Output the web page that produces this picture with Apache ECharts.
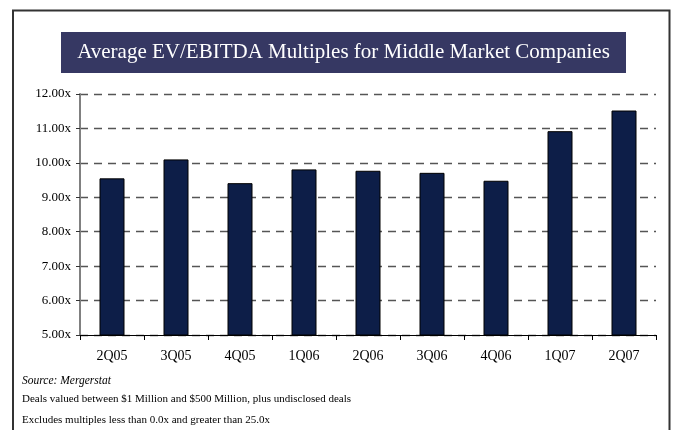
<!DOCTYPE html>
<html>
<head>
<meta charset="utf-8">
<script src="https://cdn.jsdelivr.net/npm/echarts@6/dist/echarts.min.js"></script>
<style>
html,body{margin:0;padding:0;background:#fff;}
#chart{width:673px;height:430px;}
</style>
</head>
<body>
<div id="chart"></div>
<script>
const titleText = 'Average EV/EBITDA Multiples for Middle Market Companies';
const categories = ['2Q05','3Q05','4Q05','1Q06','2Q06','3Q06','4Q06','1Q07','2Q07'];
const multiples = [9.55, 10.1, 9.41, 9.81, 9.77, 9.71, 9.48, 10.92, 11.52];
const yTicks = [5, 6, 7, 8, 9, 10, 11, 12];
const notes = ['Source: Mergerstat', 'Deals valued between $1 Million and $500 Million, plus undisclosed deals', 'Excludes multiples less than 0.0x and greater than 25.0x'];

const FONT = '"Liberation Serif", "DejaVu Serif", serif';
const chart = echarts.init(document.getElementById('chart'), null, {renderer: 'canvas'});
chart.setOption({
  animation: false,
  backgroundColor: '#fff',
  grid: {left: 80, right: 17, top: 94, bottom: 95},
  xAxis: {
    type: 'category',
    data: categories,
    boundaryGap: true,
    axisLine: {lineStyle: {color: '#000', width: 1}},
    axisTick: {show: true, length: 5, lineStyle: {color: '#000'}},
    axisLabel: {color: '#000', fontFamily: FONT, fontSize: 14, margin: 14}
  },
  yAxis: {
    type: 'value',
    min: yTicks[0],
    max: yTicks[yTicks.length - 1],
    interval: 1,
    axisLine: {show: true, lineStyle: {color: '#808080', width: 2}},
    axisTick: {show: true, length: 4, lineStyle: {color: '#333'}},
    axisLabel: {color: '#000', fontFamily: FONT, fontSize: 13, margin: 9,
      formatter: v => v.toFixed(2) + 'x'},
    splitLine: {show: true, lineStyle: {color: '#555', width: 1.4, type: [8, 6]}}
  },
  series: [{
    type: 'bar',
    data: multiples,
    barWidth: 25,
    itemStyle: {color: '#0d1e48', borderColor: '#000', borderWidth: 1}
  }],
  graphic: [
    {type: 'polyline', shape: {points: [[13, 430], [13, 10.5], [669.5, 10.5], [669.5, 430]]},
      style: {stroke: '#333', lineWidth: 2, fill: null}},
    {type: 'rect', shape: {x: 61, y: 32, width: 565, height: 41},
      style: {fill: '#363863'}},
    {type: 'text', x: 343.5, y: 52.5,
      style: {text: titleText, fill: '#fff', font: '21px ' + FONT, textAlign: 'center', textVerticalAlign: 'middle'}},
    {type: 'text', x: 22, y: 381,
      style: {text: notes[0], fill: '#000', font: 'italic 11.5px ' + FONT, textVerticalAlign: 'middle'}},
    {type: 'text', x: 22, y: 399,
      style: {text: notes[1], fill: '#000', font: '11px ' + FONT, textVerticalAlign: 'middle'}},
    {type: 'text', x: 22, y: 420,
      style: {text: notes[2], fill: '#000', font: '11px ' + FONT, textVerticalAlign: 'middle'}}
  ]
});
</script>
</body>
</html>
